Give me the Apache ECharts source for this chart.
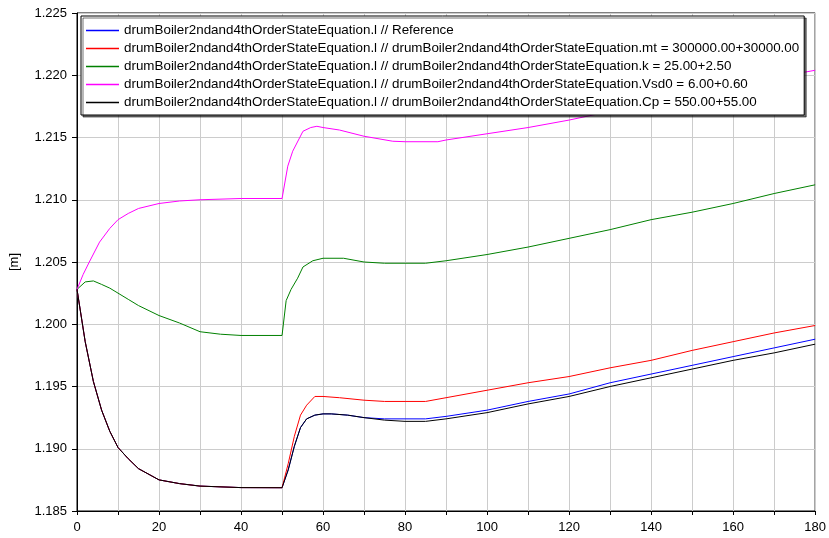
<!DOCTYPE html>
<html>
<head>
<meta charset="utf-8">
<script src="https://cdn.jsdelivr.net/npm/echarts@6/dist/echarts.min.js"></script>
<style>
html,body{margin:0;padding:0;background:#fff;}
#main{width:829px;height:538px;}
</style>
</head>
<body>
<div id="main"></div>
<script>
// legend names
var names = [
	'drumBoiler2ndand4thOrderStateEquation.l // Reference',
	'drumBoiler2ndand4thOrderStateEquation.l // drumBoiler2ndand4thOrderStateEquation.mt = 300000.00+30000.00',
	'drumBoiler2ndand4thOrderStateEquation.l // drumBoiler2ndand4thOrderStateEquation.k = 25.00+2.50',
	'drumBoiler2ndand4thOrderStateEquation.l // drumBoiler2ndand4thOrderStateEquation.Vsd0 = 6.00+0.60',
	'drumBoiler2ndand4thOrderStateEquation.l // drumBoiler2ndand4thOrderStateEquation.Cp = 550.00+55.00'
];
var colors = ['#0000ff', '#ff0000', '#008000', '#ff00ff', '#000000'];

// time points (s) and level values (m)
var tRef = [0, 2, 4, 6, 8, 10, 12.5, 15, 20, 25, 30, 40, 50, 51.5, 53, 54.5, 56, 58, 60, 62, 66, 70, 75, 80, 85, 90, 100, 110, 120, 130, 140, 150, 160, 170, 180];
var lRef = [1.2028, 1.1986, 1.1954, 1.1931, 1.1914, 1.1901, 1.1892, 1.1884, 1.1875, 1.1872, 1.1870, 1.18688, 1.18687, 1.1883, 1.1902, 1.1917, 1.1924, 1.1927, 1.1928, 1.1928, 1.1927, 1.1925, 1.1924, 1.1924, 1.1924, 1.1926, 1.1931, 1.1938, 1.1944, 1.1953, 1.1960, 1.1967, 1.1974, 1.1981, 1.1988];

var tMt = [0, 2, 4, 6, 8, 10, 12.5, 15, 20, 25, 30, 40, 50, 51.5, 53, 54.5, 56, 58, 60, 64, 70, 75, 80, 85, 90, 100, 110, 120, 130, 140, 150, 160, 170, 180];
var lMt = [1.2028, 1.1986, 1.1954, 1.1931, 1.1914, 1.1901, 1.1892, 1.1884, 1.1875, 1.1872, 1.1870, 1.18688, 1.18687, 1.1888, 1.1910, 1.1927, 1.1935, 1.1942, 1.1942, 1.1941, 1.1939, 1.1938, 1.1938, 1.1938, 1.1941, 1.1947, 1.1953, 1.1958, 1.1965, 1.1971, 1.1979, 1.1986, 1.1993, 1.1999];

var tK = [0, 2, 4, 6, 8, 10, 12.5, 15, 20, 25, 30, 35, 40, 50, 51, 52.2, 53.8, 55.1, 57.5, 60, 65, 70, 75, 80, 85, 90, 100, 110, 120, 130, 140, 150, 160, 170, 180];
var lK = [1.2028, 1.2034, 1.20348, 1.2032, 1.2029, 1.2025, 1.2020, 1.2015, 1.2007, 1.2001, 1.1994, 1.1992, 1.1991, 1.1991, 1.2019, 1.2028, 1.2037, 1.2046, 1.2051, 1.2053, 1.2053, 1.2050, 1.2049, 1.2049, 1.2049, 1.2051, 1.2056, 1.2062, 1.2069, 1.2076, 1.2084, 1.2090, 1.2097, 1.2105, 1.2112];

var tVsd = [0, 1.5, 3, 5.5, 8, 10, 12.5, 15, 20, 25, 30, 40, 50, 51.4, 52.6, 55.1, 57, 58.5, 60, 64, 70, 77, 80, 88, 90, 100, 110, 120, 130, 140, 150, 160, 170, 180];
var lVsd = [1.2028, 1.2040, 1.2050, 1.2066, 1.2077, 1.2084, 1.2089, 1.2093, 1.2097, 1.2099, 1.2100, 1.2101, 1.2101, 1.2127, 1.2139, 1.2155, 1.2158, 1.2159, 1.2158, 1.2156, 1.2151, 1.2147, 1.21466, 1.21466, 1.2148, 1.2153, 1.2158, 1.2164, 1.2171, 1.2178, 1.2185, 1.2192, 1.2198, 1.2204];

var tCp = [0, 2, 4, 6, 8, 10, 12.5, 15, 20, 25, 30, 40, 50, 51.5, 53, 54.5, 56, 58, 60, 62, 66, 70, 75, 80, 85, 90, 100, 110, 120, 130, 140, 150, 160, 170, 180];
var lCp = [1.2028, 1.1986, 1.1954, 1.1931, 1.1914, 1.1901, 1.1892, 1.1884, 1.1875, 1.1872, 1.1870, 1.18688, 1.18687, 1.1883, 1.1902, 1.1917, 1.1924, 1.1927, 1.1928, 1.1928, 1.1927, 1.1925, 1.1923, 1.1922, 1.1922, 1.1924, 1.1929, 1.1936, 1.1942, 1.1950, 1.1957, 1.1964, 1.1971, 1.1977, 1.1984];

var xTicks = [0, 20, 40, 60, 80, 100, 120, 140, 160, 180];

function pairs(t, v) {
	var out = [];
	for (var i = 0; i < t.length; i++) out.push([t[i], v[i]]);
	return out;
}

var allT = [tRef, tMt, tK, tVsd, tCp];
var allL = [lRef, lMt, lK, lVsd, lCp];
var series = [];
for (var i = 0; i < names.length; i++) {
	series.push({
		name: names[i],
		type: 'line',
		symbol: 'none',
		color: colors[i],
		lineStyle: {width: 1, color: colors[i]},
		data: pairs(allT[i], allL[i])
	});
}

var font = "'Liberation Sans', Arial, sans-serif";
var chart = echarts.init(document.getElementById('main'));
var option = {
	animation: false,
	textStyle: {fontFamily: font},
	grid: {
		left: 77, right: 12, top: 13, bottom: 27,
		show: true, borderColor: '#000', borderWidth: 1
	},
	legend: {
		orient: 'vertical',
		left: 81, top: 16,
		padding: [8, 5, 6, 5],
		itemGap: 5,
		itemWidth: 33,
		itemHeight: 14,
		// plain line sample, no marker
		icon: 'path://M0,0 H33 V1.4 H0 Z',
		backgroundColor: '#fff',
		borderColor: '#000',
		borderWidth: 1,
		shadowColor: 'rgba(0,0,0,0.55)',
		shadowBlur: 0,
		shadowOffsetX: 2,
		shadowOffsetY: 2,
		textStyle: {fontSize: 13.4, color: '#000', fontFamily: font},
		data: names
	},
	xAxis: {
		type: 'value',
		min: 0, max: 180, interval: 10,
		axisLine: {lineStyle: {color: '#000', width: 1}},
		axisTick: {length: 4, lineStyle: {color: '#000'}},
		axisLabel: {
			color: '#000', fontSize: 13, margin: 10,
			formatter: function (v) { return xTicks.indexOf(v) >= 0 ? String(v) : ''; }
		},
		splitLine: {lineStyle: {color: '#cccccc', width: 1}}
	},
	yAxis: {
		type: 'value',
		min: 1.185, max: 1.225, interval: 0.005,
		name: '[m]',
		nameLocation: 'middle',
		nameGap: 56,
		nameRotate: 90,
		nameTextStyle: {color: '#000', fontSize: 13},
		axisLine: {show: true, lineStyle: {color: '#000', width: 1}},
		axisTick: {show: true, length: 5, lineStyle: {color: '#000'}},
		axisLabel: {
			color: '#000', fontSize: 13, margin: 10,
			formatter: function (v) { return v.toFixed(3); }
		},
		splitLine: {lineStyle: {color: '#cccccc', width: 1}}
	},
	series: series
};
chart.setOption(option);
</script>
</body>
</html>
